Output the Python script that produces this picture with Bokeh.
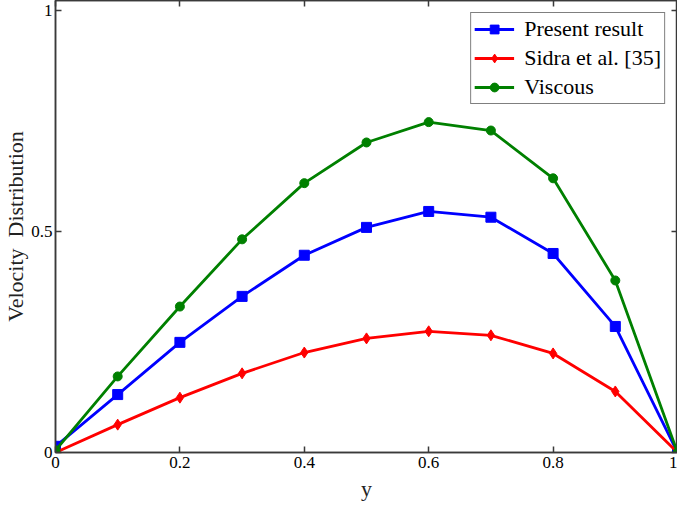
from bokeh.plotting import figure
from bokeh.models import Range1d, LinearAxis, FixedTicker, Legend, LegendItem, CustomLabelingPolicy
from bokeh.embed import file_html
from bokeh.resources import INLINE

y_pos = [0.0, 0.1, 0.2, 0.3, 0.4, 0.5, 0.6, 0.7, 0.8, 0.9, 1.0]
present = [0.014, 0.131, 0.249, 0.353, 0.446, 0.509, 0.545, 0.532, 0.450, 0.285, 0.0]
sidra = [0.0, 0.063, 0.124, 0.179, 0.226, 0.258, 0.274, 0.265, 0.224, 0.138, 0.0]
viscous = [0.005, 0.172, 0.330, 0.482, 0.609, 0.701, 0.747, 0.728, 0.620, 0.389, 0.0]
x_ticks = [0, 0.2, 0.4, 0.6, 0.8, 1]
y_ticks = [0, 0.5, 1]

FONT = "Liberation Serif"
AX = "#3a3a3a"

p = figure(width=677, height=503, output_backend="svg", toolbar_location=None,
           x_range=Range1d(0, 1), y_range=Range1d(0, 1.022),
           min_border_left=0, min_border_right=0, min_border_top=0, min_border_bottom=0)
p.grid.visible = False
p.outline_line_color = AX
p.outline_line_width = 1.5

for ax in (p.xaxis[0], p.yaxis[0]):
    ax.axis_line_color = AX
    ax.axis_line_width = 1.5
    ax.major_tick_in = 6
    ax.major_tick_out = 0
    ax.major_tick_line_color = AX
    ax.major_tick_line_width = 1.5
    ax.minor_tick_line_color = None
    ax.major_label_text_font = FONT
    ax.major_label_text_font_size = "17px"
    ax.major_label_text_color = "black"
    ax.axis_label_text_font = FONT
    ax.axis_label_text_font_style = "normal"
    ax.axis_label_text_font_size = "22px"
    ax.axis_label_text_color = "#222222"

p.xaxis[0].ticker = FixedTicker(ticks=x_ticks)
p.yaxis[0].ticker = FixedTicker(ticks=y_ticks)
p.xaxis[0].axis_label = "y"
p.yaxis[0].axis_label = "Velocity\u00a0\u00a0Distribution"
p.xaxis[0].major_label_standoff = 4
p.yaxis[0].major_label_standoff = 3
p.xaxis[0].axis_label_standoff = 5
p.yaxis[0].axis_label_standoff = 0

top = LinearAxis(ticker=FixedTicker(ticks=x_ticks), major_label_policy=CustomLabelingPolicy(code="return []"),
                 major_tick_in=6, major_tick_out=0, major_tick_line_color=AX,
                 major_tick_line_width=1.5, minor_tick_line_color=None,
                 axis_line_color=AX, axis_line_width=1.5, major_label_standoff=0,
                 major_label_text_font_size="0px")
p.add_layout(top, "above")
right = LinearAxis(ticker=FixedTicker(ticks=y_ticks), major_label_policy=CustomLabelingPolicy(code="return []"),
                   major_tick_in=6, major_tick_out=0, major_tick_line_color=AX,
                   major_tick_line_width=1.5, minor_tick_line_color=None,
                   axis_line_color=AX, axis_line_width=1.5, major_label_standoff=0,
                   major_label_text_font_size="0px")
p.add_layout(right, "right")

series = [
    ("Present result", present, "#0000ff", "square", 10),
    ("Sidra et al. [35]", sidra, "#ff0000", "diamond", 11),
    ("Viscous", viscous, "#008000", "circle", 9),
]
items = []
for name, vals, col, mk, sz in series:
    l = p.line(y_pos, vals, line_color=col, line_width=2.8)
    s = p.scatter(y_pos, vals, marker=mk, size=sz, fill_color=col, line_color=col)
    items.append(LegendItem(label=name, renderers=[l, s]))

leg = Legend(items=items, location="top_right")
leg.label_text_font = FONT
leg.label_text_font_size = "22px"
leg.label_text_color = "black"
leg.border_line_color = "black"
leg.border_line_width = 1.2
leg.background_fill_alpha = 1
leg.glyph_width = 40
leg.glyph_height = 22
leg.label_height = 22
leg.spacing = 3
leg.padding = 3
leg.margin = 12
leg.label_standoff = 10
p.add_layout(leg)

open("out.html", "w").write(file_html(p, INLINE))
